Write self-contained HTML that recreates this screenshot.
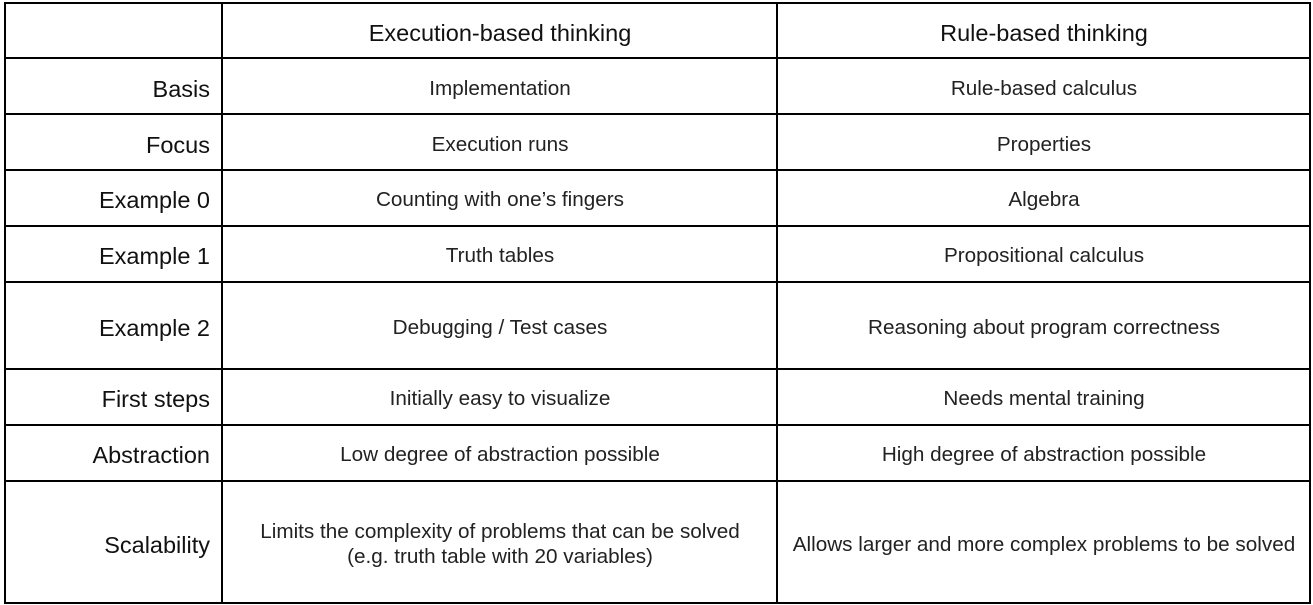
<!DOCTYPE html>
<html><head><style>
body{margin:0;width:1313px;height:605px;background:#fff;position:relative;overflow:hidden;font-family:"Liberation Sans",sans-serif;color:#222}
.h{position:absolute;height:2px;background:#000;left:4px;width:1307px}
.v{position:absolute;width:2px;background:#000;top:2px;height:602px}
.t{position:absolute;transform:translateY(-50%);font-size:20.7px;line-height:24px;white-space:nowrap}
.c1{left:6px;width:204px;text-align:right;font-size:23.5px;color:#111}
.c2{left:223px;width:554px;text-align:center}
.c3{left:779px;width:530px;text-align:center}
.hd{font-size:23.5px;color:#111}
</style></head><body>
<div class="h" style="top:2px"></div>
<div class="h" style="top:57px"></div>
<div class="h" style="top:113px"></div>
<div class="h" style="top:169px"></div>
<div class="h" style="top:225px"></div>
<div class="h" style="top:281px"></div>
<div class="h" style="top:368px"></div>
<div class="h" style="top:424px"></div>
<div class="h" style="top:480px"></div>
<div class="h" style="top:602px"></div>
<div class="v" style="left:4px"></div>
<div class="v" style="left:221px"></div>
<div class="v" style="left:776px"></div>
<div class="v" style="left:1309px"></div>

<div class="t c2 hd" style="top:33px">Execution-based thinking</div>
<div class="t c3 hd" style="top:33px">Rule-based thinking</div>

<div class="t c1" style="top:89px">Basis</div>
<div class="t c2" style="top:89px">Implementation</div>
<div class="t c3" style="top:89px">Rule-based calculus</div>

<div class="t c1" style="top:145px">Focus</div>
<div class="t c2" style="top:145px">Execution runs</div>
<div class="t c3" style="top:145px">Properties</div>

<div class="t c1" style="top:200px">Example 0</div>
<div class="t c2" style="top:200px">Counting with one’s fingers</div>
<div class="t c3" style="top:200px">Algebra</div>

<div class="t c1" style="top:256px">Example 1</div>
<div class="t c2" style="top:256px">Truth tables</div>
<div class="t c3" style="top:256px">Propositional calculus</div>

<div class="t c1" style="top:328px">Example 2</div>
<div class="t c2" style="top:328px">Debugging / Test cases</div>
<div class="t c3" style="top:328px">Reasoning about program correctness</div>

<div class="t c1" style="top:399px">First steps</div>
<div class="t c2" style="top:399px">Initially easy to visualize</div>
<div class="t c3" style="top:399px">Needs mental training</div>

<div class="t c1" style="top:455px">Abstraction</div>
<div class="t c2" style="top:455px">Low degree of abstraction possible</div>
<div class="t c3" style="top:455px">High degree of abstraction possible</div>

<div class="t c1" style="top:545px">Scalability</div>
<div class="t c2" style="top:544px;line-height:25px">Limits the complexity of problems that can be solved<br>(e.g. truth table with 20 variables)</div>
<div class="t c3" style="top:545px">Allows larger and more complex problems to be solved</div>
</body></html>
